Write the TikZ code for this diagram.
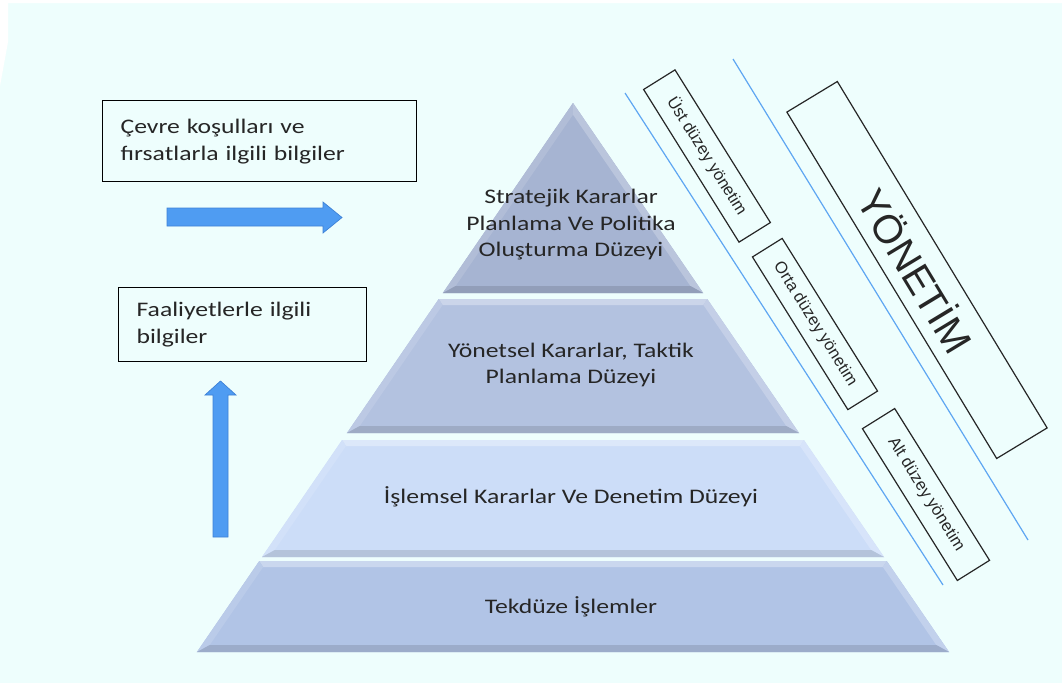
\documentclass[tikz,border=0pt]{standalone}
\usepackage{fontspec}
\newfontfamily\pyrfont{Carlito}[FakeStretch=1.24]
\newfontfamily\sidefont{Liberation Sans}
\begin{document}
\begin{tikzpicture}[x=1pt,y=-1pt,
  layertext/.style={font=\pyrfont\fontsize{20.7}{26.5}\selectfont, text=txt, align=center, inner sep=0pt},
  infobox/.style={draw=black, line width=1.2pt, align=left, anchor=north west,
    inner xsep=18pt, inner ysep=0pt, text=txt, font=\pyrfont\fontsize{20.7}{27}\selectfont},
  rotbox/.style={draw=black!85, line width=1.2pt, rotate=-58, inner sep=0pt,
    font=\sidefont\fontsize{16.5}{18}\selectfont, text=black!85},
  blockarrow/.style={fill=arrowblue, draw=arrowedge, line width=0.7pt, line join=miter},
  guide/.style={draw=guideblue, line width=1.2pt}]
\definecolor{bg}{HTML}{EEFEFD}
\definecolor{txt}{HTML}{262626}
\definecolor{arrowblue}{HTML}{4F9CF2}
\definecolor{arrowedge}{HTML}{3E82D6}
\definecolor{guideblue}{HTML}{5EA6F2}
\definecolor{layA}{HTML}{A6B4D2}
\definecolor{layB}{HTML}{B3C2E0}
\definecolor{layC}{HTML}{CCDDF8}
\definecolor{layD}{HTML}{B1C4E6}

% canvas
\useasboundingbox (0,0) rectangle (1062,683);
\fill[bg] (0,0) rectangle (1062,683);
\fill[white] (0,0) -- (1062,0) -- (1062,3) -- (8,3) -- (8,42) -- (0,86) -- cycle;

% one bevelled slice of the pyramid: top y, bottom y, colour
\newcommand\pyrlayer[3]{%
  \pgfmathsetmacro\ya{#1}\pgfmathsetmacro\yb{#2}
  \pgfmathsetmacro\xa{573-0.685*(\ya-103)}
  \pgfmathsetmacro\xb{573+0.685*(\ya-103)}
  \pgfmathsetmacro\xc{573+0.685*(\yb-103)}
  \pgfmathsetmacro\xd{573-0.685*(\yb-103)}
  \pgfmathsetmacro\yai{max(\ya+6,114.7)}
  \pgfmathsetmacro\ybi{\yb-7}
  \pgfmathsetmacro\xai{573-0.685*(\yai-103)+8}
  \pgfmathsetmacro\xbi{573+0.685*(\yai-103)-8}
  \pgfmathsetmacro\xci{573+0.685*(\ybi-103)-8}
  \pgfmathsetmacro\xdi{573-0.685*(\ybi-103)+8}
  \fill[#3] (\xa,\ya) -- (\xb,\ya) -- (\xc,\yb) -- (\xd,\yb) -- cycle;
  \fill[#3!68!white] (\xa,\ya) -- (\xb,\ya) -- (\xbi,\yai) -- (\xai,\yai) -- cycle;
  \fill[#3!88!white] (\xa,\ya) -- (\xai,\yai) -- (\xdi,\ybi) -- (\xd,\yb) -- cycle;
  \fill[#3!78!white] (\xb,\ya) -- (\xbi,\yai) -- (\xci,\ybi) -- (\xc,\yb) -- cycle;
  \fill[#3!88!black] (\xd,\yb) -- (\xdi,\ybi) -- (\xci,\ybi) -- (\xc,\yb) -- cycle;
}

% guide lines beside the pyramid
\coordinate (g1a) at (625,93);  \coordinate (g1b) at (943,585);
\coordinate (g2a) at (733,59);  \coordinate (g2b) at (1028,540);
\draw[guide] (g1a) -- (g1b);
\draw[guide] (g2a) -- (g2b);

% pyramid
\pyrlayer{103}{293}{layA}
\pyrlayer{299}{433}{layB}
\pyrlayer{440}{557}{layC}
\pyrlayer{561}{652}{layD}

\node[layertext] (strat) at (571,225) {Stratejik Kararlar\\Planlama Ve Politika\\Oluşturma Düzeyi};
\node[layertext] (takt) at (571,365) {Yönetsel Kararlar, Taktik\\Planlama Düzeyi};
\node[layertext] (islem) at (571,497) {İşlemsel Kararlar Ve Denetim Düzeyi};
\node[layertext] (tek) at (571,607) {Tekdüze İşlemler};

% information boxes
\node[infobox, text width=278pt, minimum height=81pt] (env) at (102,100)
  {Çevre koşulları ve\\fırsatlarla ilgili bilgiler};
\node[infobox, text width=212pt, minimum height=74pt] (act) at (118,287)
  {Faaliyetlerle ilgili\\bilgiler};

% block arrows
\filldraw[blockarrow] (167,208) -- (323,208) -- (323,202) -- (342,217.5)
  -- (323,233) -- (323,226) -- (167,226) -- cycle;
\filldraw[blockarrow] (213,537) -- (213,395) -- (205,395) -- (220.5,381)
  -- (236,395) -- (228,395) -- (228,537) -- cycle;

% management levels
\node[rotbox, minimum width=180pt, minimum height=37pt] (ust) at (707,156) {Üst düzey yönetim};
\node[rotbox, minimum width=180pt, minimum height=35pt] (orta) at (815,324) {Orta düzey yönetim};
\node[rotbox, minimum width=179pt, minimum height=38pt] (alt) at (926,494.5) {Alt düzey yönetim};
\node[rotbox, rotate=-0.8, minimum width=405pt, minimum height=59pt,
  font=\sidefont\fontsize{40}{44}\selectfont] (yon) at (917,270) {YÖNETİM};
\end{tikzpicture}
\end{document}
